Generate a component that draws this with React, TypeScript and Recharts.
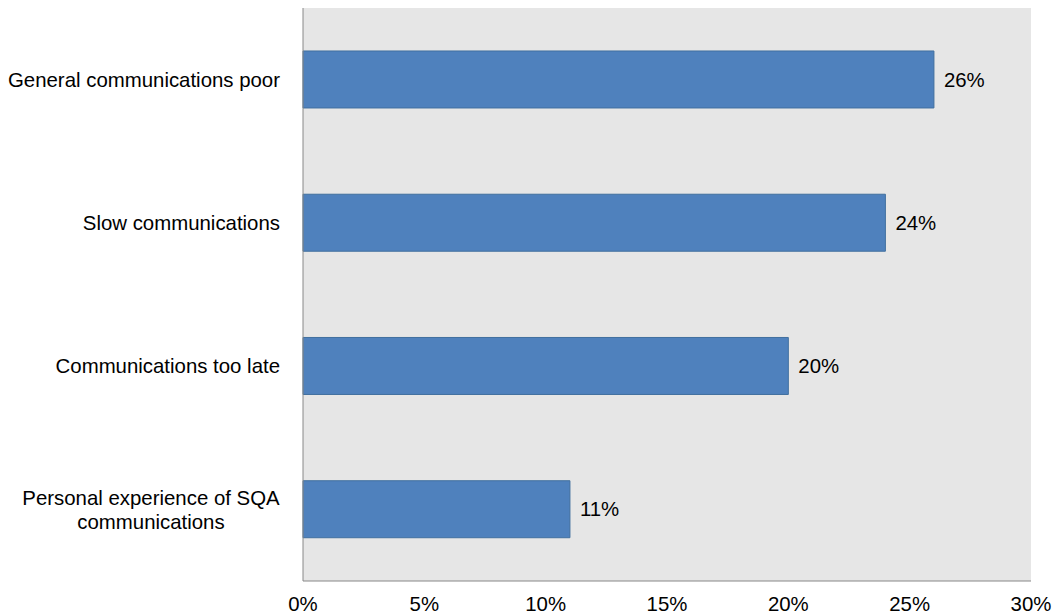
import { Bar, BarChart, CartesianGrid, LabelList, XAxis, YAxis } from "recharts";

const categories = [
  "General communications poor",
  "Slow communications",
  "Communications too late",
  "Personal experience of SQA communications",
];
const shares = [26, 24, 20, 11];
const xTicks = [0, 5, 10, 15, 20, 25, 30];

const data = categories.map((name, i) => ({ name, value: shares[i] }));

const fontSize = 20.4;

function wrap(label: string, max = 28) {
  const words = label.split(" ");
  const lines: string[] = [];
  let cur = "";
  words.forEach((w) => {
    const next = cur ? cur + " " + w : w;
    if (next.length > max && cur) {
      lines.push(cur);
      cur = w;
    } else cur = next;
  });
  if (cur) lines.push(cur);
  return lines;
}

function CategoryTick({ x, y, payload }: any) {
  const lines = wrap(String(payload.value));
  const lineHeight = 24;
  const multi = lines.length > 1;
  // x arrives already shifted off the axis line, so offsets are from there
  const tx = multi ? x - 144 : x - 15;
  const startY = y - ((lines.length - 1) * lineHeight) / 2;
  return (
    <text
      x={tx}
      y={startY}
      textAnchor={multi ? "middle" : "end"}
      fontSize={fontSize}
      fill="#000"
    >
      {lines.map((l, i) => (
        <tspan key={i} x={tx} y={startY + i * lineHeight} dy="0.355em">
          {l}
        </tspan>
      ))}
    </text>
  );
}

export default function App() {
  return (
    <div
      style={{
        position: "absolute",
        left: 0,
        top: 0,
        fontFamily: "'Liberation Sans', Arial, sans-serif",
      }}
    >
      <BarChart
        width={1054}
        height={616}
        data={data}
        layout="vertical"
        margin={{ top: 8, right: 23, bottom: 0, left: 0 }}
        barCategoryGap="30%"
      >
        <CartesianGrid
          horizontal={false}
          vertical={false}
          fill="#e6e6e6"
          fillOpacity={1}
        />
        <XAxis
          type="number"
          domain={[0, 30]}
          ticks={xTicks}
          tickFormatter={(v) => `${v}%`}
          height={35}
          axisLine={{ stroke: "#888888" }}
          tickLine={false}
          tickSize={0}
          tickMargin={16}
          tick={{ fontSize, fill: "#000" }}
          interval={0}
        />
        <YAxis
          type="category"
          dataKey="name"
          width={303}
          axisLine={{ stroke: "#888888" }}
          tickLine={false}
          tick={<CategoryTick />}
          interval={0}
        />
        <Bar
          dataKey="value"
          fill="#4f81bd"
          stroke="#41709f"
          strokeWidth={1}
          isAnimationActive={false}
        >
          <LabelList
            dataKey="value"
            position="right"
            offset={10}
            formatter={(v: any) => `${v}%`}
            fontSize={fontSize}
            fill="#000"
          />
        </Bar>
      </BarChart>
    </div>
  );
}
